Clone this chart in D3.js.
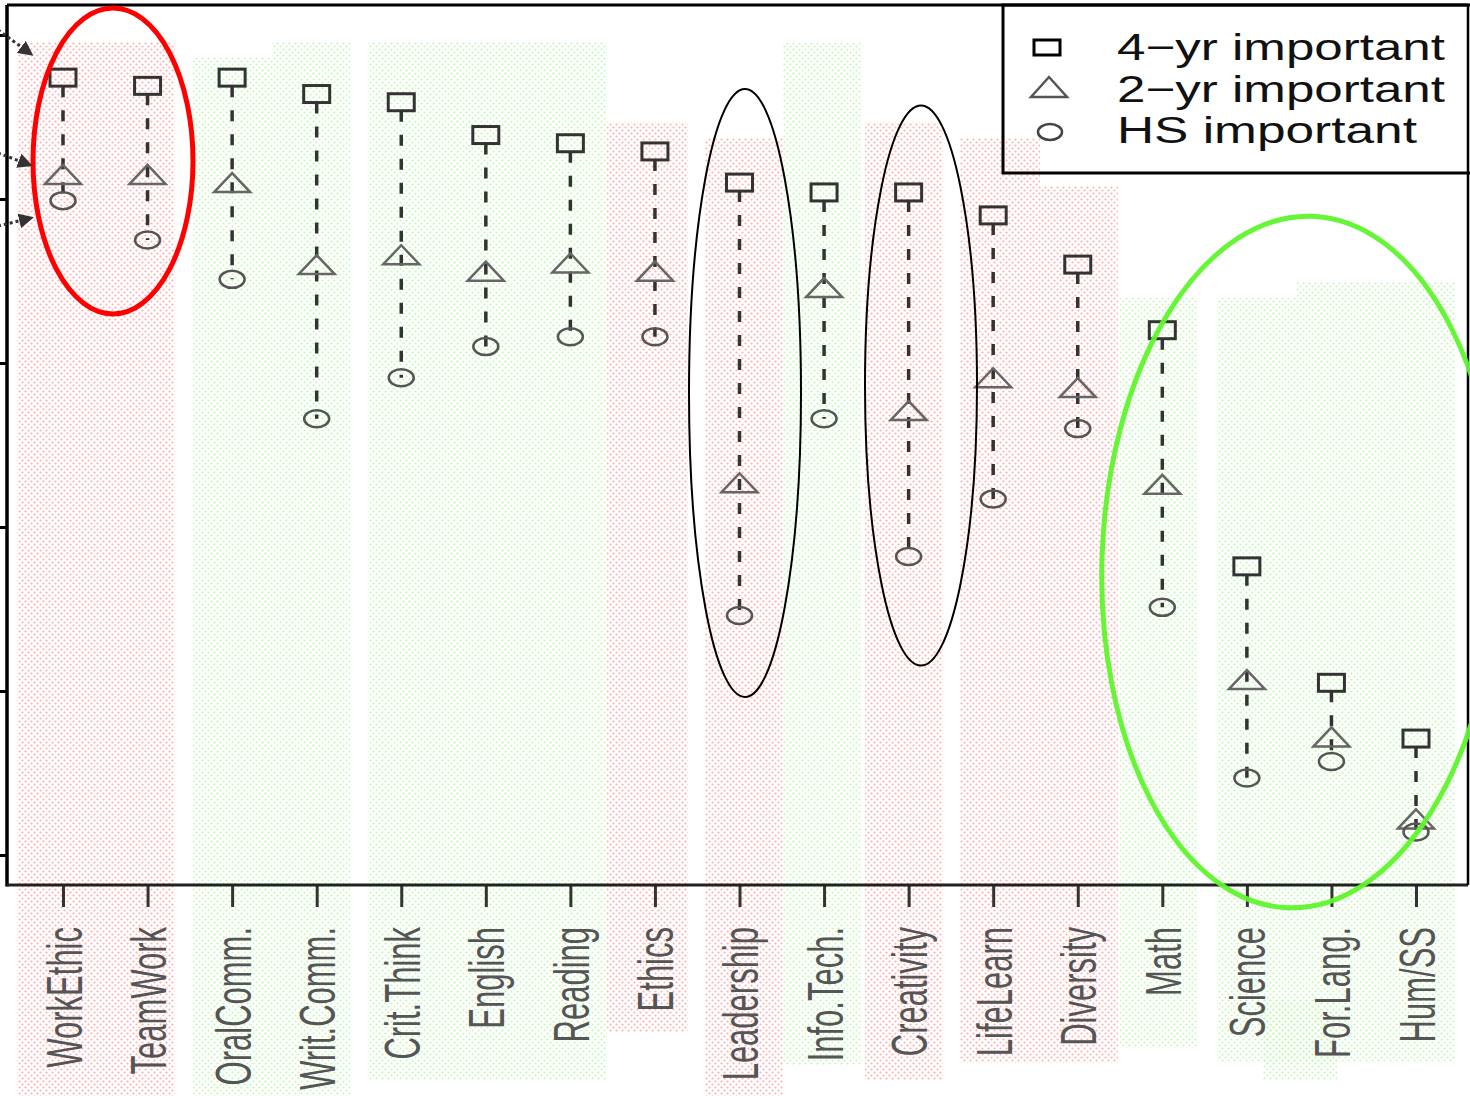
<!DOCTYPE html>
<html>
<head>
<meta charset="utf-8">
<script src="https://cdn.jsdelivr.net/npm/d3@7"></script>
<style>
  html, body { margin: 0; padding: 0; background: #fff; }
  svg { display: block; }
</style>
</head>
<body>
<div id="chart"></div>
<script>
// skills, left to right
const skills = ["WorkEthic", "TeamWork", "OralComm.", "Writ.Comm.", "Crit.Think", "English",
  "Reading", "Ethics", "Leadership", "Info.Tech.", "Creativity", "LifeLearn", "Diversity",
  "Math", "Science", "For.Lang.", "Hum/SS"];

// percent rating the skill important
const fourYear   = [97.4, 96.9, 97.4, 96.4, 95.9, 93.9, 93.4, 92.9, 91.0, 90.4, 90.4, 89.0, 86.0, 82.0, 67.6, 60.5, 57.1];
const twoYear    = [91.5, 91.5, 91.0, 86.0, 86.6, 85.6, 86.1, 85.6, 72.7, 84.6, 77.1, 79.1, 78.5, 72.6, 60.7, 57.2, 52.2];
const highSchool = [89.9, 87.5, 85.1, 76.6, 79.1, 81.0, 81.6, 81.6, 64.6, 76.6, 68.2, 71.7, 76.0, 65.1, 54.7, 55.7, 51.4];

const yTicks = [50, 60, 70, 80, 90, 100];
const legendLabels = ["4\u2212yr important", "2\u2212yr important", "HS important"];

// ---- layout ----
const W = 1470, H = 1096;
const plot = { left: 7, right: 1468, top: 5, bottom: 885 };
const ink = "#333";

const svg = d3.select("#chart").append("svg")
  .attr("width", W)
  .attr("height", H)
  .style("font-family", "'Liberation Sans', Arial, sans-serif");

const defs = svg.append("defs");
function dotPattern(id, color) {
  const p = defs.append("pattern")
    .attr("id", id).attr("patternUnits", "userSpaceOnUse")
    .attr("width", 6).attr("height", 6);
  p.append("circle").attr("cx", 1.5).attr("cy", 1.5).attr("r", 1.1).attr("fill", color);
  p.append("circle").attr("cx", 4.5).attr("cy", 4.5).attr("r", 1.1).attr("fill", color);
}
dotPattern("pinkDots", "#ffb0b0");
dotPattern("greenDots", "#c4f7b6");

defs.append("marker")
  .attr("id", "arrowHead")
  .attr("viewBox", "0 0 10 10")
  .attr("refX", 8).attr("refY", 5)
  .attr("markerWidth", 5).attr("markerHeight", 5)
  .attr("markerUnits", "strokeWidth")
  .attr("orient", "auto")
  .append("path").attr("d", "M0,0 L10,5 L0,10 Z").attr("fill", ink);

const x = d3.scalePoint().domain(skills).range([63, 1416]);
const y = d3.scaleLinear().domain([50, 100]).range([855, 35]);

// legend background (patches bleed into its lower-left corner)
const legendBox = { x: 1003, y: 5, w: 470, h: 168 };
svg.append("rect")
  .attr("x", legendBox.x).attr("y", legendBox.y)
  .attr("width", legendBox.w).attr("height", legendBox.h)
  .attr("fill", "#fff");

// shaded column patches behind the groups of skills
const patches = [
  [17, 175, 42, 1096, "pink"],
  [193, 272, 57, 1096, "green"],
  [272, 350, 42, 1096, "green"],
  [368, 607, 42, 1080, "green"],
  [607, 688, 122, 1032, "pink"],
  [705, 783, 138, 1096, "pink"],
  [783, 862, 43, 1065, "green"],
  [865, 943, 122, 1080, "pink"],
  [960, 1040, 138, 1063, "pink"],
  [1040, 1118, 186, 1063, "pink"],
  [1120, 1198, 298, 1048, "green"],
  [1217, 1297, 298, 1063, "green"],
  [1297, 1455, 282, 1063, "green"],
  [1263, 1337, 1000, 1080, "green"]
];
svg.append("g").selectAll("rect")
  .data(patches)
  .join("rect")
  .attr("x", d => d[0]).attr("y", d => d[2])
  .attr("width", d => d[1] - d[0]).attr("height", d => d[3] - d[2])
  .attr("fill", d => d[4] === "pink" ? "url(#pinkDots)" : "url(#greenDots)");

// axes
svg.append("g")
  .attr("transform", `translate(${plot.left},0)`)
  .call(d3.axisLeft(y).tickValues(yTicks).tickSize(9).tickFormat(""))
  .call(g => g.select(".domain").remove())
  .call(g => g.selectAll("line").attr("stroke", "#000").attr("stroke-width", 3));

const xAxis = svg.append("g")
  .attr("transform", `translate(0,${plot.bottom})`)
  .call(d3.axisBottom(x).tickSize(22))
  .call(g => g.select(".domain").remove())
  .call(g => g.selectAll("line").attr("stroke", ink).attr("stroke-width", 3));

xAxis.selectAll("text")
  .attr("x", null).attr("y", null).attr("dy", null)
  .attr("transform", "translate(18,42) rotate(-90) scale(1,1.6)")
  .style("text-anchor", "end")
  .attr("font-size", 31)
  .attr("fill", "#555")
  .attr("font-family", "'Liberation Sans', Arial, sans-serif");

// frame
const frame = svg.append("g").attr("stroke", "#000").attr("fill", "none");
frame.append("line").attr("x1", plot.left).attr("x2", plot.left)
  .attr("y1", plot.top).attr("y2", plot.bottom + 1.5).attr("stroke-width", 3.5);
frame.append("line").attr("x1", plot.left).attr("x2", plot.right)
  .attr("y1", plot.top).attr("y2", plot.top).attr("stroke-width", 3);
frame.append("line").attr("x1", plot.left).attr("x2", plot.right)
  .attr("y1", plot.bottom).attr("y2", plot.bottom).attr("stroke-width", 3).attr("stroke", "#222");
frame.append("line").attr("x1", plot.right).attr("x2", plot.right)
  .attr("y1", plot.top).attr("y2", plot.bottom).attr("stroke-width", 2.5);

// dashed range lines
const rows = skills.map((s, i) => ({ skill: s, four: fourYear[i], two: twoYear[i], hs: highSchool[i] }));

svg.append("g").selectAll("line")
  .data(rows)
  .join("line")
  .attr("x1", d => x(d.skill)).attr("x2", d => x(d.skill))
  .attr("y1", d => y(d.four) + 8.5)
  .attr("y2", d => y(d.hs))
  .attr("stroke", ink)
  .attr("stroke-width", 3.5)
  .attr("stroke-dasharray", "11,13");

const triPath = "M-18,9.5 L0,-9.5 L18,9.5 Z";

// markers
svg.append("g").selectAll("rect")
  .data(rows)
  .join("rect")
  .attr("x", d => x(d.skill) - 13).attr("y", d => y(d.four) - 8.5)
  .attr("width", 26).attr("height", 17)
  .attr("fill", "none").attr("stroke", ink).attr("stroke-width", 3);

svg.append("g").selectAll("path")
  .data(rows)
  .join("path")
  .attr("transform", d => `translate(${x(d.skill)},${y(d.two)})`)
  .attr("d", triPath)
  .attr("fill", "none").attr("stroke", "#666").attr("stroke-width", 2.5);

svg.append("g").selectAll("ellipse")
  .data(rows)
  .join("ellipse")
  .attr("cx", d => x(d.skill)).attr("cy", d => y(d.hs))
  .attr("rx", 12.5).attr("ry", 8.5)
  .attr("fill", "none").attr("stroke", "#555").attr("stroke-width", 2.5);

// legend
svg.append("rect")
  .attr("x", legendBox.x).attr("y", legendBox.y)
  .attr("width", legendBox.w).attr("height", legendBox.h)
  .attr("fill", "none").attr("stroke", "#000").attr("stroke-width", 3);

const lg = svg.append("g");
lg.append("rect").attr("x", 1034).attr("y", 40).attr("width", 26).attr("height", 15)
  .attr("fill", "none").attr("stroke", "#000").attr("stroke-width", 3);
lg.append("path").attr("transform", "translate(1049,87)").attr("d", "M-18,10 L0,-10 L18,10 Z")
  .attr("fill", "none").attr("stroke", "#555").attr("stroke-width", 2.5);
lg.append("ellipse").attr("cx", 1050).attr("cy", 132).attr("rx", 12).attr("ry", 8)
  .attr("fill", "none").attr("stroke", "#444").attr("stroke-width", 2.5);

const legendWidths = [328, 328, 300];
lg.selectAll("text")
  .data(legendLabels)
  .join("text")
  .attr("x", 1117)
  .attr("y", (d, i) => 60 + i * 41.5)
  .attr("font-size", 37)
  .attr("fill", "#111")
  .attr("textLength", (d, i) => legendWidths[i])
  .attr("lengthAdjust", "spacingAndGlyphs")
  .text(d => d);

// annotation ellipses
const notes = svg.append("g").attr("fill", "none");
notes.append("ellipse").attr("cx", 113).attr("cy", 161).attr("rx", 80).attr("ry", 153)
  .attr("stroke", "#ff0000").attr("stroke-width", 5);
notes.append("ellipse").attr("cx", 745).attr("cy", 393).attr("rx", 56).attr("ry", 304)
  .attr("stroke", "#000").attr("stroke-width", 2);
notes.append("ellipse").attr("cx", 921).attr("cy", 385.5).attr("rx", 56).attr("ry", 280)
  .attr("stroke", "#000").attr("stroke-width", 2);
notes.append("ellipse").attr("cx", 1300).attr("cy", 562).attr("rx", 198).attr("ry", 346)
  .attr("transform", "rotate(2,1300,562)")
  .attr("stroke", "#5ff52c").attr("stroke-width", 5).attr("opacity", 0.95);

// dotted arrows at the left edge
const arrows = [[-2, 30, 31, 54], [-2, 153, 30, 165], [-2, 226, 31, 218]];
svg.append("g").selectAll("line")
  .data(arrows)
  .join("line")
  .attr("x1", d => d[0]).attr("y1", d => d[1])
  .attr("x2", d => d[2]).attr("y2", d => d[3])
  .attr("stroke", ink).attr("stroke-width", 3)
  .attr("stroke-dasharray", "3,3")
  .attr("marker-end", "url(#arrowHead)");
</script>
</body>
</html>
